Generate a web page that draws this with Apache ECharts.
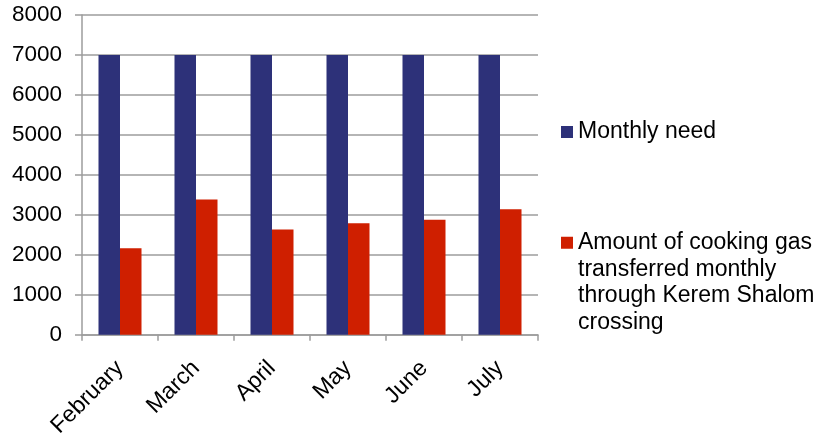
<!DOCTYPE html>
<html lang="en" style="height: 100%">
<head>
    <meta charset="utf-8">
    <title>Cooking gas chart</title>
    <script src="https://cdn.jsdelivr.net/npm/echarts@6/dist/echarts.min.js"></script>
</head>
<body style="height: 100%; margin: 0; background: #fff">
    <div id="main" style="width: 817px; height: 440px"></div>
    <script type="text/javascript">
        // data
        var months = ['February', 'March', 'April', 'May', 'June', 'July'];
        var monthlyNeed = [7000, 7000, 7000, 7000, 7000, 7000];
        var transferred = [2160, 3380, 2630, 2790, 2875, 3140];
        var yTicks = [0, 1000, 2000, 3000, 4000, 5000, 6000, 7000, 8000];

        var needName = 'Monthly need';
        var gasName = 'Amount of cooking gas transferred monthly through Kerem Shalom crossing';

        var font = '"Liberation Sans", Arial, sans-serif';
        var gridColor = '#9c9c9c';

        var myChart = echarts.init(document.getElementById('main'));

        var option = {
            animation: false,
            grid: { left: 82, right: 279, top: 15, bottom: 104 },
            legend: [
                {
                    data: [needName],
                    left: 556, top: 114,
                    itemWidth: 12, itemHeight: 12,
                    icon: 'rect',
                    textStyle: { fontFamily: font, fontSize: 23, color: '#000', lineHeight: 26 }
                },
                {
                    data: [gasName],
                    left: 556, top: 145,
                    itemWidth: 12, itemHeight: 12,
                    icon: 'rect',
                    // blank lines above keep the square level with the first line
                    formatter: function () {
                        return ' \n \n \nAmount of cooking gas\ntransferred monthly\nthrough Kerem Shalom\ncrossing';
                    },
                    textStyle: { fontFamily: font, fontSize: 23, color: '#000', lineHeight: 26.5 }
                }
            ],
            xAxis: {
                type: 'category',
                data: months,
                axisLine: { lineStyle: { color: gridColor, width: 1.5 } },
                axisTick: { show: true, length: 6, lineStyle: { color: gridColor, width: 1.5 } },
                axisLabel: { rotate: 45, margin: 30, fontFamily: font, fontSize: 23, color: '#000' }
            },
            yAxis: {
                type: 'value',
                min: yTicks[0],
                max: yTicks[yTicks.length - 1],
                interval: 1000,
                axisLine: { show: true, lineStyle: { color: gridColor, width: 1.5 } },
                axisTick: { show: true, length: 7, lineStyle: { color: gridColor, width: 1.5 } },
                axisLabel: {
                    margin: 20, fontFamily: font, fontSize: 22.5, color: '#000',
                    formatter: function (v) { return String(v); }
                },
                splitLine: { lineStyle: { color: gridColor, width: 1.5 } }
            },
            series: [
                {
                    name: needName,
                    type: 'bar',
                    data: monthlyNeed,
                    barWidth: 21.5,
                    barGap: '0%',
                    itemStyle: { color: '#2d3179' }
                },
                {
                    name: gasName,
                    type: 'bar',
                    data: transferred,
                    barWidth: 21.5,
                    itemStyle: { color: '#cf1f00' }
                }
            ]
        };

        myChart.setOption(option);
    </script>
</body>
</html>
